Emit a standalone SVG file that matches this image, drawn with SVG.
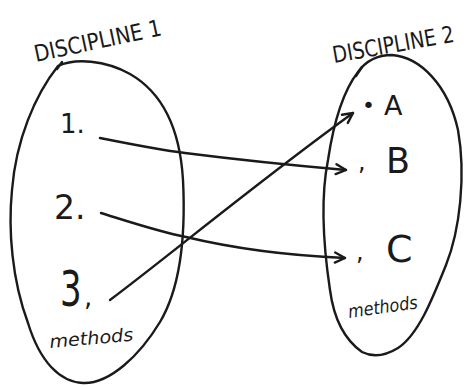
<svg xmlns="http://www.w3.org/2000/svg" width="467" height="387" viewBox="0 0 467 387">
<style>
.sh{fill:none;stroke:#1a1a1a;stroke-width:2.4;stroke-linecap:round;stroke-linejoin:round}
.t{font-family:"DejaVu Sans","Liberation Sans",sans-serif;fill:#1a1a1a}
.hd{font-size:20px}
.sm{font-size:18px;font-style:italic}
.c{stroke:#1a1a1a;stroke-width:2.4;fill:none;stroke-linecap:round}
</style>
<defs>
<marker id="ah" viewBox="0 0 12 12" refX="11" refY="6" markerWidth="12" markerHeight="12" markerUnits="userSpaceOnUse" orient="auto" overflow="visible">
<path d="M1,1 L11,6 L1,11" fill="none" stroke="#1a1a1a" stroke-width="2.4" stroke-linecap="round" stroke-linejoin="round"/>
</marker>
</defs>
<rect width="467" height="387" fill="#fff"/>
<g id="discipline1">
<path class="sh" d="M58,66 C75,58 105,60 130,74 C163,93 180,130 183,180 C186,240 179,290 160,322 C140,355 110,384 83,383 C60,382 40,362 28,323 C12,280 8,230 12,190 C16,140 35,95 58,66"/>
<path class="sh" d="M57,69 L62,62"/>
<text class="t hd" transform="translate(36,62) rotate(-12) scale(1,1.15)">DISCIPLINE 1</text>
<text class="t" style="font-size:26px" x="60" y="133">1.</text>
<text class="t" style="font-size:33px" x="54" y="219">2.</text>
<text class="t" style="font-size:50px" transform="translate(60,306) scale(0.68,1)">3</text>
<text class="t" style="font-size:26px" x="84" y="306">,</text>
<text class="t sm" transform="translate(50,348) rotate(-5)" textLength="84" lengthAdjust="spacingAndGlyphs">methods</text>
</g>
<g id="discipline2">
<path class="sh" d="M358,72 C368,58 380,55 392,55 C420,57 448,85 458,130 C466,175 460,230 446,265 C432,300 418,335 398,348 C385,356 372,357 362,352 C345,340 334,320 330,290 C324,250 320,200 328,160 C334,120 344,90 358,72"/>
<path class="sh" d="M356,76 L362,67"/>
<text class="t hd" transform="translate(334,63) rotate(-10) scale(0.95,1.15)">DISCIPLINE 2</text>
<text class="t" style="font-size:22px" x="362" y="113">•</text>
<text class="t" style="font-size:27px" x="384" y="115">A</text>
<text class="t" style="font-size:24px" x="358" y="170">,</text>
<text class="t" style="font-size:35px" x="386" y="173">B</text>
<text class="t" style="font-size:24px" x="356" y="260">,</text>
<text class="t" style="font-size:38px" x="386" y="262">C</text>
<text class="t sm" transform="translate(349,318) rotate(-8)" textLength="70" lengthAdjust="spacingAndGlyphs">methods</text>
</g>
<g id="connectors">
<path class="c" marker-end="url(#ah)" d="M100,138 C140,146 160,150 185,153 C240,160 300,166 346,170"/>
<path class="c" marker-end="url(#ah)" d="M101,213 C130,222 160,232 186,237 C240,250 300,256 345,258"/>
<path class="c" marker-end="url(#ah)" d="M110,300 C170,255 260,180 353,113"/>
</g>
</svg>
